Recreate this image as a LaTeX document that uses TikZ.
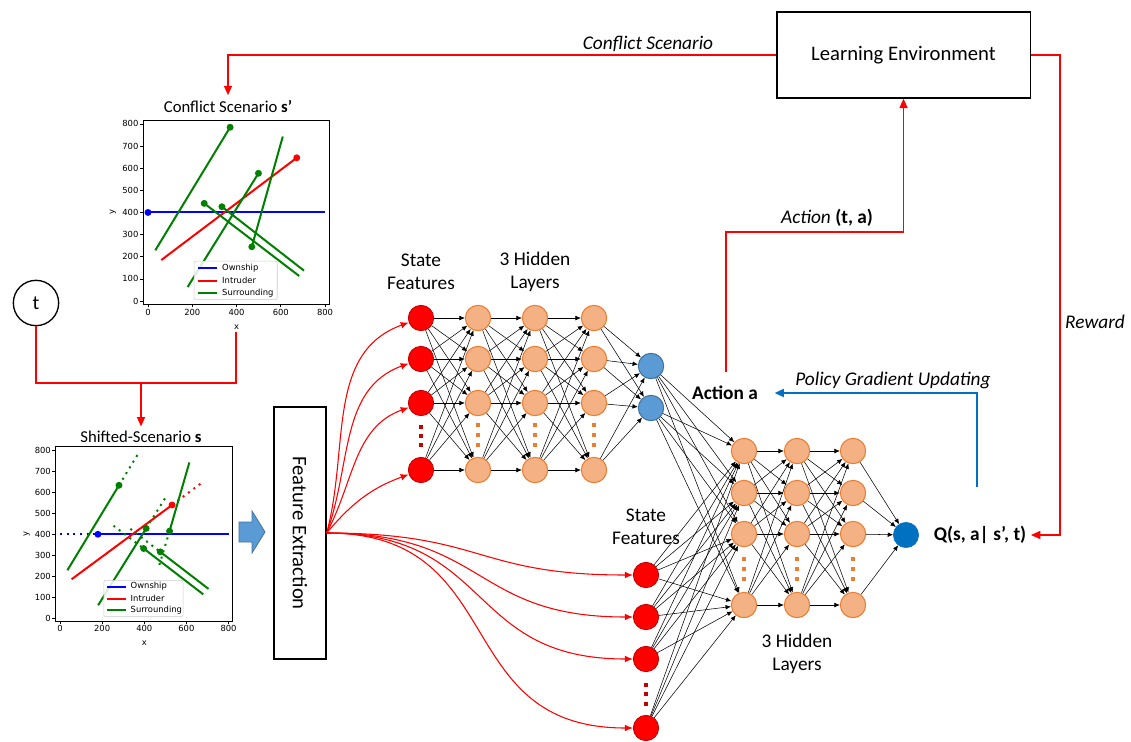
\documentclass[tikz,border=0pt]{standalone}
\usepackage{fontspec}
\setmainfont{Carlito}
\newfontfamily\plotfont{DejaVu Sans}
\usetikzlibrary{positioning,arrows.meta,shapes}
\definecolor{hidfill}{HTML}{F4B183}
\definecolor{hiddraw}{HTML}{ED7D31}
\definecolor{actfill}{HTML}{5B9BD5}
\definecolor{actdraw}{HTML}{41719C}
\definecolor{qblue}{HTML}{0070C0}
\definecolor{indark}{HTML}{C00000}
\definecolor{mplgreen}{HTML}{008000}
\tikzstyle{input} = [circle, fill=red, draw=indark, line width=0.6pt, minimum size=19pt, inner sep=0pt]
\tikzstyle{hidden} = [circle, fill=hidfill, draw=hiddraw, line width=0.8pt, minimum size=19pt, inner sep=0pt]
\tikzstyle{actout} = [circle, fill=actfill, draw=actdraw, line width=0.8pt, minimum size=19pt, inner sep=0pt]
\tikzstyle{qout} = [circle, fill=qblue, draw=qblue, minimum size=19pt, inner sep=0pt]
\tikzstyle{link} = [black, line width=0.4pt, -{Latex[length=4pt,width=3.5pt]}]
\tikzstyle{feed} = [red, line width=0.8pt, -{Latex[length=6pt,width=5pt]}]
\tikzstyle{flow} = [red, line width=1pt, -{Triangle[length=7pt,width=6pt]}]
\tikzstyle{grad} = [qblue, line width=1.3pt, -{Triangle[length=7pt,width=6pt]}]
\tikzstyle{box} = [draw, line width=1pt, inner sep=0pt, font=\fontsize{15.5}{18}\selectfont]
\tikzstyle{layertext} = [font=\fontsize{14.5}{17}\selectfont, align=center]
\tikzstyle{flowtext} = [font=\fontsize{14.5}{17}\selectfont]
\tikzstyle{result} = [font=\bfseries\fontsize{14.5}{17}\selectfont]
\tikzstyle{plottitle} = [font=\fontsize{12.5}{15}\selectfont]
\tikzstyle{ticks} = [font=\plotfont\fontsize{6.3}{7}\selectfont, inner sep=1pt]
\tikzstyle{track} = [line width=1.5pt]
\tikzstyle{shifted} = [line width=1.5pt, dash pattern=on 1.5pt off 3.5pt]
\newcommand{\drawAxes}{
  % frame
  \draw[line width=0.6pt] (-22,-14) rectangle (820,818);
  % ticks
  \foreach \v in {0,200,...,800}{
    \draw[line width=0.5pt] (\v,-14) -- ++(0,-14);
    \node[ticks, below] at (\v,-28) {\v};
  }
  \foreach \v in {0,100,...,800}{
    \draw[line width=0.5pt] (-22,\v) -- ++(-14,0);
    \node[ticks, left] at (-36,\v) {\v};
  }
  \node[ticks] at (400,-118) {x};
  \node[ticks, rotate=90] at (-158,400) {y};
}
\newcommand{\drawLegend}{
  \draw[gray!40, fill=white, fill opacity=0.85, rounded corners=1.5pt] (208,6) rectangle (584,180);
  \draw[track, blue] (224,150) -- (311,150);
  \node[ticks, right] at (328,150) {Ownship};
  \draw[track, red] (224,92) -- (311,92);
  \node[ticks, right] at (328,92) {Intruder};
  \draw[track, mplgreen] (224,36) -- (311,36);
  \node[ticks, right] at (328,36) {Surrounding};
}

\begin{document}
\begin{tikzpicture}[x=0.75pt, y=0.75pt]
  \useasboundingbox (0,0) rectangle (1131,-742);

  % conflict scenario plot
  \node[plottitle] (titleA) at (228,-106) {Conflict Scenario \textbf{s’}};
  \begin{scope}[shift={(148,-301)}, x=0.166pt, y=0.166pt]
    \drawAxes
    \draw[track, blue] (0,400) -- (800,400);
    \fill[blue] (0,400) circle (2.6pt);
    \draw[track, red] (60,185) -- (672,647);
    \fill[red] (672,647) circle (2.6pt);
    \draw[track, mplgreen] (33,229) -- (371,785);
    \draw[track, mplgreen] (179,63) -- (499,577);
    \draw[track, mplgreen] (469,245) -- (609,743);
    \draw[track, mplgreen] (254,441) -- (683,113);
    \draw[track, mplgreen] (334,426) -- (705,137);
    \foreach \p in {(371,785),(499,577),(469,245),(254,441),(334,426)}
      \fill[mplgreen] \p circle (2.6pt);
    \drawLegend
  \end{scope}
  \coordinate (plotA-foot) at (236,-332);

  % shifted scenario plot
  \node[plottitle] (titleB) at (141,-437) {Shifted-Scenario \textbf{s}};
  \begin{scope}[shift={(60,-618)}, x=0.158pt, y=0.157pt]
    \drawAxes
    \draw[shifted, blue] (0,400) -- (180,400);
    \draw[track, blue] (180,400) -- (800,400);
    \draw[track, red] (55,185) -- (532,540);
    \draw[shifted, red] (532,540) -- (674,647);
    \draw[track, mplgreen] (35,228) -- (280,634);
    \draw[shifted, mplgreen] (280,634) -- (370,783);
    \draw[track, mplgreen] (181,61) -- (409,428);
    \draw[shifted, mplgreen] (409,428) -- (499,572);
    \draw[track, mplgreen] (614,743) -- (520,415);
    \draw[shifted, mplgreen] (520,415) -- (469,245);
    \draw[shifted, mplgreen] (254,441) -- (397,332);
    \draw[track, mplgreen] (397,332) -- (680,113);
    \draw[shifted, mplgreen] (334,426) -- (476,316);
    \draw[track, mplgreen] (476,316) -- (705,139);
    \fill[blue] (180,400) circle (2.6pt);
    \fill[red] (532,540) circle (2.6pt);
    \foreach \p in {(280,634),(409,428),(520,415),(397,332),(476,316)}
      \fill[mplgreen] \p circle (2.6pt);
    \drawLegend
  \end{scope}

  % time shift
  \node[circle, draw, line width=1pt, minimum size=34pt, font=\fontsize{15}{17}\selectfont] (t) at (36,-303) {t};
  \coordinate (join) at (141,-383);
  \draw[red, line width=1pt] (t.south) |- (236,-383) -- (plotA-foot);
  \draw[flow] (join) -- (titleB.north);

  % feature extraction
  \fill[actfill, draw=actdraw, line width=0.6pt] (239,-522) -- (252,-522) -- (252,-511) -- (265,-532)
    -- (252,-553) -- (252,-542) -- (239,-542) -- cycle;
  \node[box, rotate=-90, minimum width=189pt, minimum height=39pt] (fe) at (300,-533) {Feature Extraction};

  % actor network
  \foreach \y [count=\i] in {318,359,403,470}{
    \node[input] (ui\i) at (421,-\y) {};
    \node[hidden] (ua\i) at (478,-\y) {};
    \node[hidden] (ub\i) at (535,-\y) {};
    \node[hidden] (uc\i) at (594,-\y) {};
  }
  \node[actout] (uo1) at (651,-366) {};
  \node[actout] (uo2) at (651,-408) {};
  \foreach \i in {1,...,4}
    \foreach \j in {1,...,4}{
      \draw[link] (ui\i) -- (ua\j);
      \draw[link] (ua\i) -- (ub\j);
      \draw[link] (ub\i) -- (uc\j);
    }
  \foreach \i in {1,...,4}
    \foreach \j in {1,2}
      \draw[link] (uc\i) -- (uo\j);
  \foreach \yy in {427,436,445}
    \fill[indark] (419,-\yy+2) rectangle ++(4,-4);
  \foreach \xx in {478,535,594}
    \foreach \yy in {425,435,445}
      \fill[hiddraw] (\xx-2,-\yy+2) rectangle ++(4,-4);
  \node[layertext] at (421,-272) {State\\Features};
  \node[layertext] at (535,-272) {3 Hidden\\Layers};

  % critic network
  \foreach \y [count=\i] in {575,617,659,728}
    \node[input] (li\i) at (646,-\y) {};
  \foreach \y [count=\i] in {451,493,534,605}{
    \node[hidden] (la\i) at (744,-\y) {};
    \node[hidden] (lb\i) at (797,-\y) {};
    \node[hidden] (lc\i) at (853,-\y) {};
  }
  \node[qout] (lo) at (906,-535) {};
  \foreach \i in {1,...,4}
    \foreach \j in {1,...,4}{
      \draw[link] (li\i) -- (la\j);
      \draw[link] (la\i) -- (lb\j);
      \draw[link] (lb\i) -- (lc\j);
    }
  \foreach \i in {1,2}
    \foreach \j in {1,...,4}
      \draw[link] (uo\i) -- (la\j);
  \foreach \i in {1,...,4}
    \draw[link] (lc\i) -- (lo);
  \foreach \yy in {685,694,704}
    \fill[indark] (644,-\yy+2) rectangle ++(4,-4);
  \foreach \xx in {744,797,853}
    \foreach \yy in {559,569,579}
      \fill[hiddraw] (\xx-2,-\yy+2) rectangle ++(4,-4);
  \node[layertext] at (646,-527) {State\\Features};
  \node[layertext] at (797,-654) {3 Hidden\\Layers};

  % features to inputs
  \foreach \i/\o in {1/75,2/70,3/62,4/50}
    \draw[feed] (fe.north) to[out=\o, in=200] (ui\i);
  \foreach \i in {1,...,4}
    \draw[feed] (fe.north) to[out=0, in=180, looseness=1.3] (li\i);

  % learning loop
  \node[box, minimum width=190pt, minimum height=64.5pt] (env) at (903.5,-55) {Learning Environment};
  \node[result] (act) at (725,-393) {Action a};
  \node[result] (q) at (980,-535) {Q(s, a| s’, t)};
  \coordinate (act-foot) at (726,-372);
  \coordinate (q-top) at (977,-487);
  \draw[flow] (env.west) -| (titleA.north);
  \draw[flow] (env.east) -- (1060,-55) |- (q.east);
  \draw[flow] (act-foot) -- (726,-232) -| (env.south);
  \draw[grad] (q-top) |- ([xshift=9pt]act.east);
  \node[flowtext] at (648,-44) {\textit{Conflict Scenario}};
  \node[flowtext] at (827,-218) {\textit{Action} \textbf{(t, a)}};
  \node[flowtext] at (1095,-322) {\textit{Reward}};
  \node[flowtext] at (893,-380) {\textit{Policy Gradient Updating}};
\end{tikzpicture}
\end{document}
